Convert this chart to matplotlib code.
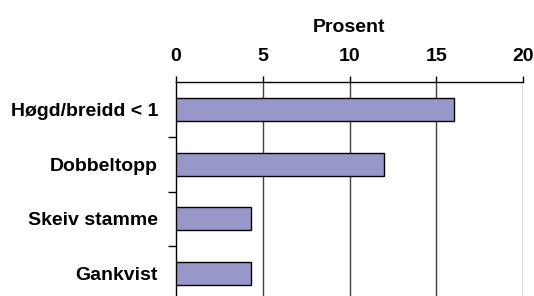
import matplotlib.pyplot as plt
import numpy as np

plt.rcParams['font.family'] = ['Liberation Sans', 'DejaVu Sans']
plt.rcParams['font.weight'] = 'bold'

categories = ['Høgd/breidd < 1', 'Dobbeltopp', 'Skeiv stamme', 'Gankvist']
values = [16.0, 12.0, 4.3, 4.3]
xticks = [0, 5, 10, 15, 20]

fig = plt.figure(figsize=(5.34, 2.96), dpi=100)
# axes run a little past the bottom of the image (chart is cropped)
ax = fig.add_axes([176/534, -5/296, (523-176)/534, (301-82)/296])

y = np.arange(len(categories))
ax.barh(y, values, height=0.42, color='#9797c9', edgecolor='black', linewidth=1, zorder=3)

ax.set_xlim(0, 20)
ax.set_ylim(len(categories) - 0.5, -0.5)
ax.xaxis.tick_top()
ax.xaxis.set_label_position('top')
ax.set_xticks(xticks)
ax.set_xticklabels([str(t) for t in xticks], fontsize=14, fontweight='bold')
ax.set_xlabel('Prosent', fontsize=14, fontweight='bold', labelpad=12)
ax.tick_params(axis='x', direction='out', length=4, width=1, pad=8)

# category labels centred on bars, ticks at boundaries
ax.set_yticks(y)
ax.set_yticklabels(categories, fontsize=14, fontweight='bold')
ax.tick_params(axis='y', which='major', length=0, pad=13)
ax.set_yticks(np.arange(0.5, len(categories) - 0.5, 1), minor=True)
ax.tick_params(axis='y', which='minor', direction='out', length=6, width=1)

for t in xticks[1:]:
    ax.axvline(t, color='#404040', linewidth=1, zorder=1)

ax.spines['bottom'].set_visible(False)
ax.spines['right'].set_visible(False)
ax.spines['top'].set_linewidth(1)
ax.spines['left'].set_linewidth(1)

fig.savefig('out.png', dpi=100)
